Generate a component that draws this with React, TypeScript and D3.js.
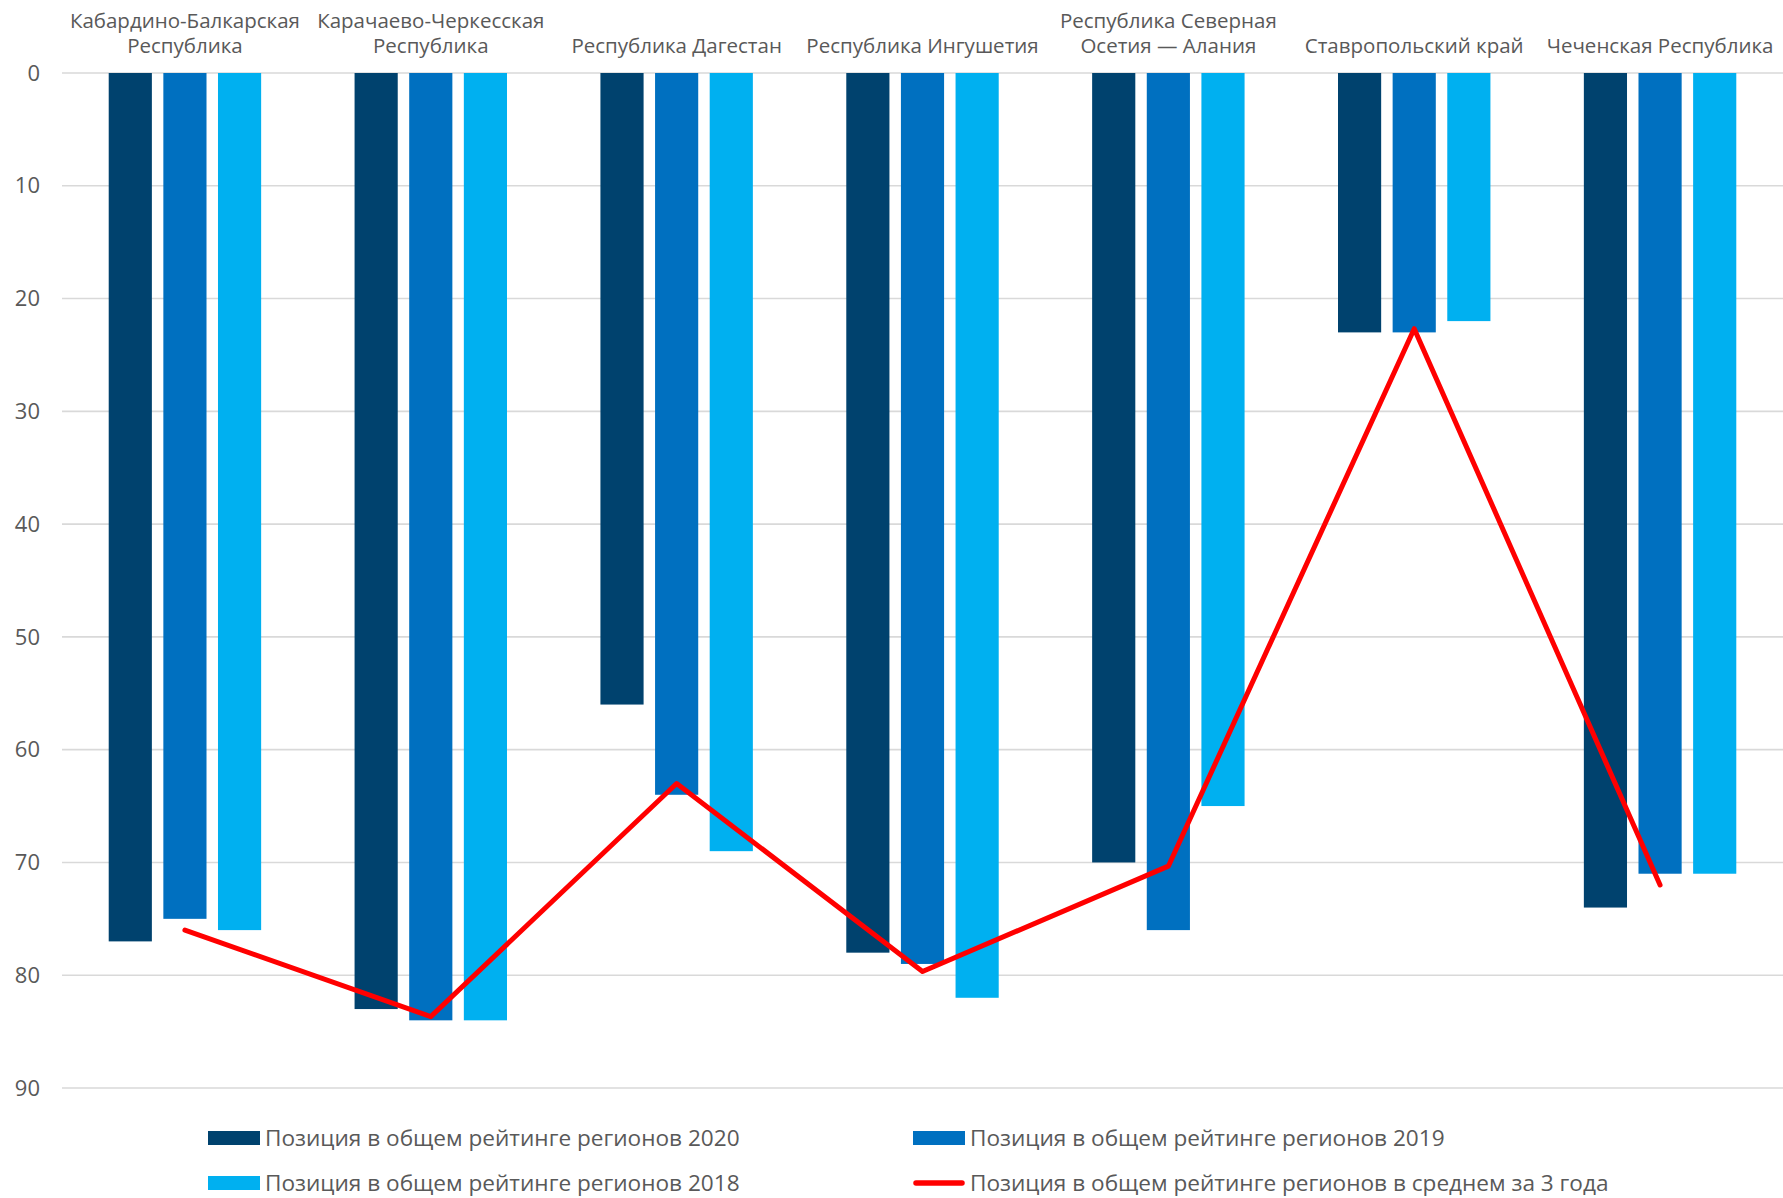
import React from "react";
import * as d3 from "d3";

const categories: string[][] = [
  ["Кабардино-Балкарская", "Республика"],
  ["Карачаево-Черкесская", "Республика"],
  ["Республика Дагестан"],
  ["Республика Ингушетия"],
  ["Республика Северная", "Осетия — Алания"],
  ["Ставропольский край"],
  ["Чеченская Республика"],
];
const rank2020 = [77, 83, 56, 78, 70, 23, 74];
const rank2019 = [75, 84, 64, 79, 76, 23, 71];
const rank2018 = [76, 84, 69, 82, 65, 22, 71];
const rankAvg = [76, 83.67, 63, 79.67, 70.33, 22.67, 72];
const yTicks = [0, 10, 20, 30, 40, 50, 60, 70, 80, 90];
const seriesNames = [
  "Позиция в общем рейтинге регионов 2020",
  "Позиция в общем рейтинге регионов 2019",
  "Позиция в общем рейтинге регионов 2018",
];
const lineName = "Позиция в общем рейтинге регионов в среднем за 3 года";
const colors = ["#00426E", "#0070C0", "#00B0F0"];
const lineColor = "#FF0000";

const W = 1783;
const H = 1198;
const left = 62;
const right = 1783;
const top = 73;
const bottom = 1088;
const FONT = "'Open Sans', 'Noto Sans', sans-serif";
const TEXT = "#595959";

export default function App() {
  const x = d3
    .scaleBand<number>()
    .domain(categories.map((_, i) => i))
    .range([left, right])
    .paddingInner(0.38)
    .paddingOuter(0.19);
  const xs = d3
    .scaleBand<number>()
    .domain([0, 1, 2])
    .range([0, x.bandwidth()])
    .paddingInner(0.21)
    .paddingOuter(0);
  const y = d3.scaleLinear().domain([0, 90]).range([top, bottom]);
  const series = [rank2020, rank2019, rank2018];
  const line = d3
    .line<number>()
    .x((_, i) => (x(i) as number) + (xs(1) as number) + xs.bandwidth() / 2)
    .y((d) => y(d));

  const legendItems = [
    { sx: 208, y: 1138, label: seriesNames[0], color: colors[0], kind: "rect" },
    { sx: 913, y: 1138, label: seriesNames[1], color: colors[1], kind: "rect" },
    { sx: 208, y: 1183, label: seriesNames[2], color: colors[2], kind: "rect" },
    { sx: 913, y: 1183, label: lineName, color: lineColor, kind: "line" },
  ];

  return (
    <svg
      width={W}
      height={H}
      style={{ position: "absolute", left: 0, top: 0, background: "#fff" }}
      fontFamily={FONT}
    >
      <rect width={W} height={H} fill="#fff" />
      {yTicks.map((t) => (
        <g key={t}>
          <line x1={left} x2={right} y1={y(t)} y2={y(t)} stroke="#D9D9D9" strokeWidth={1.6} />
          <text x={40} y={y(t)} dy="0.35em" textAnchor="end" fontSize={22} fill={TEXT}>
            {t}
          </text>
        </g>
      ))}
      {series.map((vals, s) =>
        vals.map((v, i) => (
          <rect
            key={`${s}-${i}`}
            x={(x(i) as number) + (xs(s) as number)}
            y={y(0)}
            width={xs.bandwidth()}
            height={y(v) - y(0)}
            fill={colors[s]}
          />
        ))
      )}
      <path
        d={line(rankAvg) || ""}
        fill="none"
        stroke={lineColor}
        strokeWidth={5}
        strokeLinejoin="round"
        strokeLinecap="round"
      />
      {categories.map((lines, i) => {
        const cx = (x(i) as number) + x.bandwidth() / 2;
        return (
          <text key={i} x={cx} textAnchor="middle" fontSize={20.5} fill={TEXT}>
            {lines.map((ln, k) => (
              <tspan key={k} x={cx} y={53 - (lines.length - 1 - k) * 25}>
                {ln}
              </tspan>
            ))}
          </text>
        );
      })}
      {legendItems.map((it, i) => (
        <g key={i}>
          {it.kind === "rect" ? (
            <rect x={it.sx} y={it.y - 7} width={52} height={14} fill={it.color} />
          ) : (
            <line
              x1={it.sx + 3}
              x2={it.sx + 49}
              y1={it.y}
              y2={it.y}
              stroke={it.color}
              strokeWidth={5.5}
              strokeLinecap="round"
            />
          )}
          <text x={it.sx + 57} y={it.y} dy="0.35em" fontSize={22.6} fill={TEXT}>
            {it.label}
          </text>
        </g>
      ))}
    </svg>
  );
}
